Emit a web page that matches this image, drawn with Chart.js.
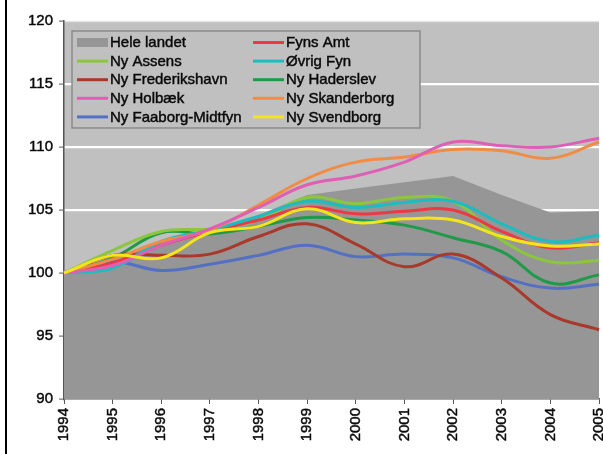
<!DOCTYPE html>
<html>
<head>
<meta charset="utf-8">
<script src="https://cdn.jsdelivr.net/npm/chart.js@4/dist/chart.umd.min.js"></script>
<style>
  html, body { margin: 0; padding: 0; background: #ffffff; }
  #wrap { width: 603px; height: 454px; position: relative; }
</style>
</head>
<body>
<div id="wrap"><canvas id="c" width="603" height="454"></canvas></div>
<script>
const years = ['1994','1995','1996','1997','1998','1999','2000','2001','2002','2003','2004','2005'];
const yTicks = [90, 95, 100, 105, 110, 115, 120];

const heleLandet      = [100, 101.2, 102.4, 103.3, 104.6, 106.2, 106.7, 107.2, 107.7, 106.2, 104.8, 104.9];
const fynsAmt         = [100, 100.8, 102.2, 103.3, 104.2, 105.2, 104.7, 104.9, 105.0, 103.3, 102.0, 102.4];
const nyAssens        = [100, 101.8, 103.3, 103.5, 104.2, 106.0, 105.5, 106.0, 105.7, 102.6, 100.9, 101.0];
const ovrigFyn        = [100, 100.4, 102.5, 103.4, 104.5, 105.7, 105.2, 105.6, 105.7, 103.9, 102.5, 103.0];
const nyFrederikshavn = [100, 101.4, 101.4, 101.5, 102.9, 103.9, 102.3, 100.5, 101.5, 99.6, 96.7, 95.5];
const nyHaderslev     = [100, 101.2, 103.2, 103.1, 103.7, 104.4, 104.2, 103.8, 102.8, 101.7, 99.2, 99.85];
const nyHolbaek       = [100, 100.6, 102.2, 103.5, 105.2, 107.0, 107.7, 108.8, 110.4, 110.1, 110.0, 110.7];
const nySkanderborg   = [100, 101.1, 102.5, 103.4, 105.4, 107.5, 108.8, 109.2, 109.8, 109.7, 109.1, 110.4];
const nyFaaborg       = [100, 100.9, 100.2, 100.7, 101.4, 102.2, 101.3, 101.5, 101.2, 99.7, 98.8, 99.1];
const nySvendborg     = [100, 101.4, 101.2, 103.2, 103.7, 105.1, 104.0, 104.3, 104.2, 102.9, 102.15, 102.3];

const PLOT_BG = '#bfc0bf';
const AREA = '#959695';
const FONT = "'Liberation Sans', Arial, Helvetica, sans-serif";

function line(label, data, color, order) {
  return {
    label, data, borderColor: color, backgroundColor: color,
    borderWidth: 3, pointRadius: 0, tension: 0.4, fill: false, order
  };
}

const datasets = [
  { label: 'Hele landet', data: heleLandet, borderWidth: 0, borderColor: AREA,
    backgroundColor: AREA, fill: 'start', pointRadius: 0, tension: 0, order: 20 },
  line('Fyns Amt', fynsAmt, '#ec3a45', 5),
  line('Ny Assens', nyAssens, '#8cc63f', 6),
  line('Øvrig Fyn', ovrigFyn, '#1dbcc0', 4),
  line('Ny Frederikshavn', nyFrederikshavn, '#a8392b', 7),
  line('Ny Haderslev', nyHaderslev, '#1f9a48', 8),
  line('Ny Holbæk', nyHolbaek, '#de5fb4', 2),
  line('Ny Skanderborg', nySkanderborg, '#f28c45', 3),
  line('Ny Faaborg-Midtfyn', nyFaaborg, '#5470c4', 9),
  line('Ny Svendborg', nySvendborg, '#f4e51a', 1)
];

const bgPlugin = {
  id: 'bg',
  beforeDraw(chart) {
    const { ctx, chartArea: a } = chart;
    ctx.save();
    ctx.fillStyle = PLOT_BG;
    ctx.fillRect(a.left, a.top, a.right - a.left, a.bottom - a.top);
    ctx.restore();
  },
  afterDraw(chart) {
    const ctx = chart.ctx;
    ctx.save();
    ctx.fillStyle = '#000';
    ctx.fillRect(5, 0, 2, 454);
    ctx.restore();
  }
};

const legendPlugin = {
  id: 'boxLegend',
  afterDatasetsDraw(chart) {
    const ctx = chart.ctx;
    const box = { x: 72, y: 31, w: 348, h: 97 };
    ctx.save();
    ctx.fillStyle = PLOT_BG;
    ctx.fillRect(box.x, box.y, box.w, box.h);
    ctx.strokeStyle = '#8a8a8a';
    ctx.lineWidth = 1.5;
    ctx.strokeRect(box.x, box.y, box.w, box.h);
    ctx.font = '15px ' + FONT;
    ctx.textBaseline = 'middle';
    const colX = [77, 253];
    const rowY0 = 42.5, rowH = 18.6;
    chart.data.datasets.forEach((ds, i) => {
      const col = i % 2, row = Math.floor(i / 2);
      const x = colX[col], y = rowY0 + row * rowH;
      if (ds.fill) {
        ctx.fillStyle = AREA;
        ctx.fillRect(x, y - 4.5, 31, 9);
      } else {
        ctx.strokeStyle = ds.borderColor;
        ctx.lineWidth = 3;
        ctx.beginPath();
        ctx.moveTo(x, y);
        ctx.lineTo(x + 31, y);
        ctx.stroke();
      }
      ctx.fillStyle = '#0a0a0a';
      ctx.strokeStyle = '#0a0a0a';
      ctx.lineWidth = 0.45;
      ctx.fillText(ds.label, x + 33, y + 0.5);
      ctx.strokeText(ds.label, x + 33, y + 0.5);
    });
    ctx.restore();
  }
};

new Chart(document.getElementById('c'), {
  type: 'line',
  data: { labels: years, datasets },
  plugins: [bgPlugin, legendPlugin],
  options: {
    responsive: false,
    animation: false,
    layout: { padding: { top: 21, right: 4, bottom: 0, left: 0 } },
    plugins: { legend: { display: false }, tooltip: { enabled: false } },
    scales: {
      x: {
        type: 'category',
        offset: false,
        ticks: { minRotation: 90, maxRotation: 90, autoSkip: false, padding: 4,
                 color: '#0a0a0a', textStrokeColor: '#0a0a0a', textStrokeWidth: 0.45,
                 font: { family: FONT, size: 15 } },
        grid: { drawOnChartArea: false, tickLength: 5, tickColor: '#555', tickWidth: 1 },
        border: { color: '#555', width: 1.5 },
        afterFit(scale) { scale.height = 55; scale.paddingLeft = 0; scale.paddingRight = 0; }
      },
      y: {
        min: 90, max: 120,
        afterBuildTicks(scale) { scale.ticks = yTicks.map(v => ({ value: v })); },
        ticks: { padding: 6, color: '#0a0a0a', textStrokeColor: '#0a0a0a', textStrokeWidth: 0.45,
                 font: { family: FONT, size: 15 } },
        grid: {
          color: (c) => (c.tick && c.tick.value === 90) ? 'rgba(0,0,0,0)' :
                        (c.tick && c.tick.value === 120) ? 'rgba(255,255,255,0.5)' : '#ffffff',
          lineWidth: 2.2, tickLength: 5, tickColor: '#555', tickWidth: 1
        },
        border: { color: '#555', width: 1.5 },
        afterFit(scale) { scale.width = 64; scale.paddingTop = 0; scale.paddingBottom = 0; }
      }
    }
  }
});
</script>
</body>
</html>
